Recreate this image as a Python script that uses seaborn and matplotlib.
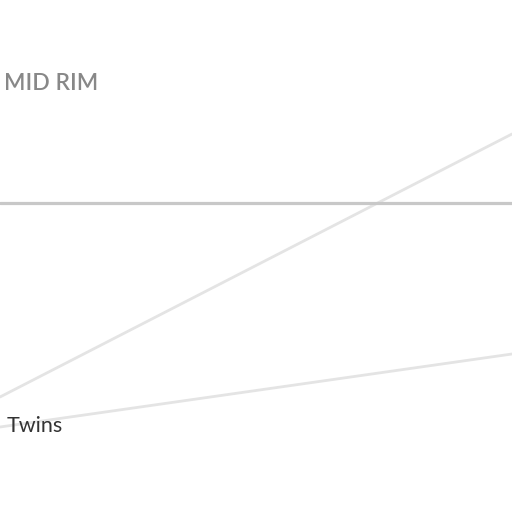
import numpy as np
import pandas as pd
import matplotlib
matplotlib.use("Agg")
import matplotlib.pyplot as plt
import seaborn as sns

# slope segments (x position, value)
x_pos = [0.0, 1.0]
line_top = [115, 378]
line_low = [85, 158]
mid_rim = 309

label_mid = "MID RIM"
label_twins = "Twins"

sns.set_theme(style="white")
plt.rcParams['font.family'] = ['Lato', 'DejaVu Sans']

df = pd.DataFrame({
    'x': x_pos * 2,
    'y': line_top + line_low,
    'series': ['top'] * 2 + ['low'] * 2,
})

fig = plt.figure(figsize=(5.12, 5.12), dpi=100)
ax = fig.add_axes([0, 0, 1, 1])
sns.lineplot(data=df, x='x', y='y', units='series', estimator=None,
             color='#e4e4e4', linewidth=2, ax=ax)
ax.axhline(mid_rim, color='#c8c8c8', linewidth=2.3)

ax.text(0.008, 428.5, label_mid, fontsize=16.5, color='#888888', fontweight='semibold',
        va='center', ha='left')
ax.text(0.013, 86.5, label_twins, fontsize=15.5, color='#333333', fontweight='normal',
        va='center', ha='left')

ax.set_xlim(0, 1)
ax.set_ylim(0, 512)
ax.axis('off')
fig.savefig('out.png', dpi=100, facecolor='white')
